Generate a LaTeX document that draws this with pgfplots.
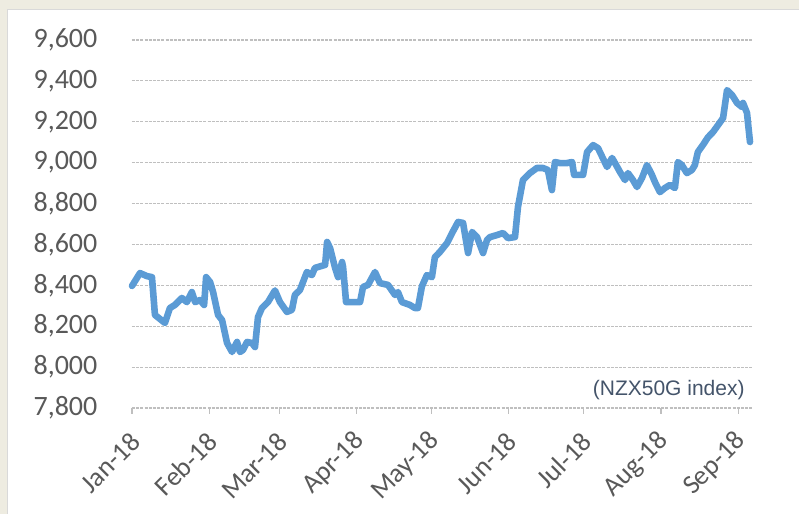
\documentclass[border=0pt]{standalone}
\usepackage{pgfplots}
\pgfplotsset{compat=1.18}
\usepackage{fontspec}
\setmainfont{Carlito}
\newfontfamily\arialfont{Liberation Sans}
\definecolor{bgbeige}{HTML}{EEECE1}
\definecolor{lineblue}{HTML}{5B9BD5}
\definecolor{ticktext}{HTML}{595959}
\definecolor{gridgray}{HTML}{BFBFBF}
\definecolor{notecol}{HTML}{44546A}
\begin{document}
\begin{tikzpicture}
\path[use as bounding box] (-66pt,-53pt) rectangle (333.5pt,204pt);
\fill[bgbeige] (-66pt,-53pt) rectangle (333.5pt,204pt);
\fill[white] (-62pt,-53pt) rectangle (333.5pt,199pt);
\draw[gray!30, line width=0.5pt] (-62pt,-53pt) -- (-62pt,199pt) -- (333.5pt,199pt);
\begin{axis}[
  scale only axis,
  width=310pt, height=184pt,
  xmin=0, xmax=248.5,
  ymin=7800, ymax=9600,
  ytick={7800,8000,8200,8400,8600,8800,9000,9200,9400,9600},
  xtick={0,31,59,90,120,151,181,212,243},
  xticklabels={Jan-18,Feb-18,Mar-18,Apr-18,May-18,Jun-18,Jul-18,Aug-18,Sep-18},
  axis line style={draw=none},
  ymajorgrids,
  grid style={gridgray, line width=0.6pt, dash pattern=on 1.5pt off 0.6pt},
  ytick style={draw=none},
  xtick pos=bottom,
  tick align=outside,
  major tick length=2.8pt,
  xtick style={draw=gridgray, line width=0.6pt},
  scaled y ticks=false,
  /pgf/number format/assume math mode=true,
  /pgf/number format/1000 sep={,},
  yticklabel style={font=\fontsize{14}{16}\selectfont, text=ticktext, xshift=-11pt},
  xticklabel style={font=\fontsize{13.5}{15}\selectfont, text=ticktext, xshift=2.5pt, yshift=-11pt, rotate=45, anchor=east, inner sep=1pt},
  clip=false,
]
\addplot[lineblue, line width=3.3pt, line join=round, line cap=round] coordinates {
(0,8397)(3.2,8460)(6.0,8445)(8.0,8440)(9.2,8255)(13.2,8216)(15.2,8289)(17.2,8304)
(20.0,8338)(22.0,8318)(24.0,8367)(25.3,8318)(27.3,8328)(28.9,8304)(29.7,8440)(31.3,8416)
(32.5,8367)(34.5,8255)(36.1,8230)(38.1,8118)(40.1,8074)(42.1,8123)(43.3,8074)(44.5,8084)
(46.1,8123)(48.1,8118)(49.3,8098)(50.5,8245)(52.1,8289)(54.5,8318)(57.3,8375)(59.3,8318)
(62.1,8270)(64.1,8280)(65.3,8353)(67.3,8377)(70.1,8465)(72.1,8450)(73.3,8485)(77.4,8500)
(78.2,8612)(79.4,8582)(81.4,8485)(82.6,8440)(84.2,8514)(84.6,8490)(85.8,8318)(91.4,8318)
(92.6,8392)(94.6,8402)(97.4,8465)(99.4,8411)(102.6,8402)(105.4,8353)(106.6,8367)(108.2,8318)
(111.4,8304)(113.4,8289)(114.6,8289)(116.2,8395)(118.2,8450)(120.2,8440)(121.4,8538)(123.4,8563)
(126.3,8607)(128.3,8656)(130.7,8710)(132.7,8705)(134.7,8558)(136.3,8661)(138.3,8636)(140.7,8558)
(142.3,8622)(143.5,8636)(146.3,8646)(148.7,8656)(150.7,8631)(153.5,8636)(154.7,8783)(156.7,8915)
(159.5,8949)(162.3,8974)(164.7,8974)(166.7,8964)(168.3,8866)(169.5,9003)(171.5,8998)(174.3,8998)
(176.4,9003)(177.2,8940)(180.8,8940)(182.4,9052)(184.8,9086)(186.8,9071)(190.4,8979)(192.4,9023)
(193.6,8998)(195.6,8954)(197.6,8915)(198.8,8949)(200.8,8915)(202.4,8881)(204.4,8925)(206.4,8988)
(208.4,8940)(209.6,8905)(211.6,8856)(213.6,8876)(215.6,8891)(217.6,8876)(218.8,9003)(220.4,8988)
(222.4,8949)(224.4,8964)(225.6,8988)(226.8,9052)(228.8,9086)(230.9,9125)(232.9,9150)(234.9,9184)
(236.9,9218)(238.5,9355)(240.5,9331)(242.5,9292)(244.5,9272)(244.9,9292)(246.5,9243)(246.9,9194)
(247.7,9101)
};
\end{axis}
\node[anchor=east, inner sep=0pt, text=notecol, font=\arialfont\fontsize{10.5}{12}\selectfont] at (306.5pt,9pt) {(NZX50G index)};
\end{tikzpicture}
\end{document}
